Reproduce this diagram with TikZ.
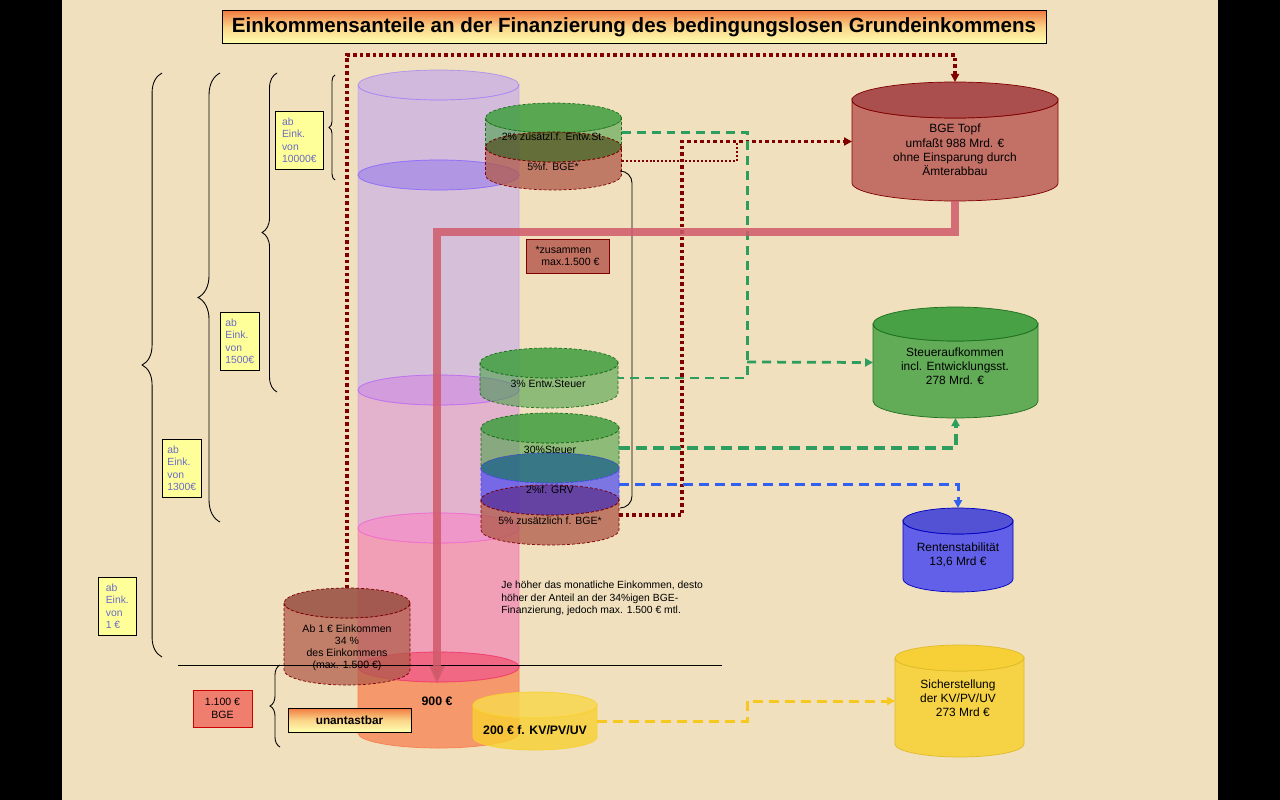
\documentclass[tikz,border=0pt]{standalone}
\usepackage{fontspec}
\setmainfont{Liberation Sans}
\usetikzlibrary{arrows.meta,decorations.pathreplacing}

% Tonne: name, cx, oben, unten, rx, ry, mantel, deckel, endwinkel (360 vorne, 0 hinten)
\newcommand\tonne[9]{%
  \path[#7] (#2-#5,#3) -- (#2-#5,#4)
    arc[start angle=180,end angle=#9,x radius={#5*0.02cm},y radius={#6*0.02cm}]
    -- (#2+#5,#3)
    arc[start angle=0,end angle=-180,x radius={#5*0.02cm},y radius={#6*0.02cm}] -- cycle;
  \path[#8] (#2,#3) ellipse[x radius={#5*0.02cm},y radius={#6*0.02cm}];
  \coordinate (#1-top) at (#2,#3-#6);
  \coordinate (#1-bot) at (#2,#4+#6);
  \coordinate (#1-w) at (#2-#5,{(#3+#4)/2});
  \coordinate (#1-e) at (#2+#5,{(#3+#4)/2});
}

\begin{document}
\begin{tikzpicture}[x=0.02cm,y=-0.02cm,
  gestrichelt/.style={dash pattern=on 0.06cm off 0.04cm,line width=0.4pt},
  gruenmantel/.style={fill=laubgruen,fill opacity=.55,draw=dunkelgruen,gestrichelt},
  gruendeckel/.style={fill=laubgruen,fill opacity=.85,draw=dunkelgruen,gestrichelt},
  rotmantel/.style={fill=ziegel,fill opacity=.75,draw=dunkelrot,gestrichelt},
  blaumantel/.style={fill=koenigsblau,fill opacity=.7,draw=koenigsblau,gestrichelt},
  spitze/.style={-{Triangle[length=0.16cm,width=0.16cm]}},
  punktlinie/.style={draw=dunkelrot,line width=0.07cm,dash pattern=on 0.07cm off 0.06cm},
  feinpunkt/.style={draw=dunkelrot,line width=0.04cm,dash pattern=on 0.04cm off 0.04cm},
  gruenstrich/.style={draw=strichgruen,line width=0.055cm,dash pattern=on 0.18cm off 0.12cm},
  gruendick/.style={draw=strichgruen,line width=0.08cm,dash pattern=on 0.22cm off 0.12cm},
  blaustrich/.style={draw=strichblau,line width=0.06cm,dash pattern=on 0.2cm off 0.12cm},
  gelbstrich/.style={draw=strichgelb,line width=0.06cm,dash pattern=on 0.2cm off 0.12cm},
  bgepfeil/.style={draw=pfeilrot,draw opacity=.85,line width=0.15cm,
    -{Triangle[length=0.36cm,width=0.28cm]}},
  klammer/.style={decorate,decoration={brace,amplitude=#1},line width=0.5pt},
  zettel/.style={draw=black,fill=zettelgelb,text=zetteltext,anchor=north west,
    font=\fontsize{5.9}{7.1}\selectfont,align=left,inner sep=1pt,minimum height=1.16cm},
  klein/.style={font=\fontsize{6}{7}\selectfont,text=black},
  topftext/.style={font=\fontsize{6.8}{8.1}\selectfont,align=center,text=black},
  fett/.style={font=\fontsize{7}{8.4}\selectfont\bfseries,text=black}]
\definecolor{pergament}{HTML}{F0E0BE}
\definecolor{titelorange}{HTML}{F07A40}
\definecolor{titelmitte}{HTML}{FBD488}
\definecolor{titelgelb}{HTML}{FFFFB0}
\definecolor{lavendel}{HTML}{B898F8}
\definecolor{violett}{HTML}{9070F8}
\definecolor{lila}{HTML}{D070E8}
\definecolor{lilaring}{HTML}{C070F0}
\definecolor{rosa}{HTML}{F060B0}
\definecolor{magentaring}{HTML}{F070D0}
\definecolor{orangerot}{HTML}{F04070}
\definecolor{hellorange}{HTML}{F88050}
\definecolor{laubgruen}{HTML}{3F9F3F}
\definecolor{dunkelgruen}{HTML}{1E6E1E}
\definecolor{ziegel}{HTML}{B05A4A}
\definecolor{topfrot}{HTML}{C06860}
\definecolor{topfdeckel}{HTML}{A84848}
\definecolor{dunkelrot}{HTML}{800000}
\definecolor{oliv}{HTML}{4B5B22}
\definecolor{koenigsblau}{HTML}{4A4AF0}
\definecolor{petrol}{HTML}{246C80}
\definecolor{pflaume}{HTML}{5632A0}
\definecolor{sonnengelb}{HTML}{F8D030}
\definecolor{zettelgelb}{HTML}{FFFF99}
\definecolor{zetteltext}{HTML}{6A6AC8}
\definecolor{lachs}{HTML}{F07E6E}
\definecolor{boxrot}{HTML}{C07060}
\definecolor{pfeilrot}{HTML}{D05A6A}
\definecolor{strichgruen}{HTML}{2E9E5E}
\definecolor{strichblau}{HTML}{3060F0}
\definecolor{strichgelb}{HTML}{F8C820}

\useasboundingbox (0,0) rectangle (1280,800);
\fill[black] (0,0) rectangle (1280,800);
\fill[pergament] (62,0) rectangle (1218,800);

\node[draw=black,top color=titelorange,bottom color=titelgelb,middle color=titelmitte,
  minimum width=16.48cm,minimum height=0.66cm,inner sep=0pt,
  font=\fontsize{11.7}{13}\selectfont\bfseries] (titel) at (634,27)
  {Einkommensanteile an der Finanzierung des bedingungslosen Grundeinkommens};

% grosse Saeule
\tonne{s1}{438.5}{85}{175}{80.5}{15}{fill=lavendel,fill opacity=.5,draw=lavendel,draw opacity=.6}{fill=lavendel,fill opacity=.55,draw=violett,draw opacity=.6}{0}
\tonne{s2}{438.5}{175}{390}{80.5}{15}{fill=lavendel,fill opacity=.45,draw=lavendel,draw opacity=.6}{fill=violett,fill opacity=.65,draw=violett}{0}
\tonne{s3}{438.5}{390}{528}{80.5}{15}{fill=lila,fill opacity=.4,draw=lila,draw opacity=.5}{fill=lilaring,fill opacity=.6,draw=lilaring}{0}
\tonne{s4}{438.5}{528}{667}{80.5}{15}{fill=rosa,fill opacity=.5,draw=rosa,draw opacity=.6}{fill=magentaring,fill opacity=.65,draw=magentaring}{0}
\tonne{s5}{438.5}{667}{733}{80.5}{15}{fill=hellorange,fill opacity=.75,draw=hellorange}{fill=orangerot,fill opacity=.75,draw=orangerot}{360}

% kleine Tonnen
\tonne{gz}{553.5}{118}{147}{68}{15}{gruenmantel}{gruendeckel}{0}
\tonne{rb}{553.5}{147}{175}{68}{15}{rotmantel}{fill=oliv,fill opacity=.85,draw=dunkelrot,gestrichelt}{360}
\tonne{ge}{549}{363}{393}{69}{15}{gruenmantel}{gruendeckel}{360}
\tonne{gs}{550}{428}{468}{69}{15}{gruenmantel}{gruendeckel}{0}
\tonne{bl}{550}{468}{500}{69}{15}{blaumantel}{fill=petrol,fill opacity=.9,draw=koenigsblau,gestrichelt}{0}
\tonne{rz}{550}{500}{530}{69}{15}{rotmantel}{fill=pflaume,fill opacity=.9,draw=dunkelrot,gestrichelt}{360}
\tonne{ab1}{347}{603}{670}{63}{15}{fill=ziegel,fill opacity=.72,draw=dunkelrot,gestrichelt}{fill=ziegel!85!black,fill opacity=.85,draw=dunkelrot,gestrichelt}{360}
\tonne{kv}{535}{705}{737}{62}{13}{fill=sonnengelb,fill opacity=.8,draw=sonnengelb}{fill=sonnengelb!85!white,fill opacity=.85,draw=sonnengelb}{360}

% Toepfe rechts
\tonne{topf}{955}{100}{183}{103}{18}{fill=topfrot,fill opacity=.92,draw=dunkelrot}{fill=topfdeckel,fill opacity=.95,draw=dunkelrot}{360}
\tonne{steuer}{955.5}{324}{401}{82.5}{17}{fill=laubgruen,fill opacity=.8,draw=dunkelgruen}{fill=laubgruen,fill opacity=.95,draw=dunkelgruen}{360}
\tonne{renten}{958}{521}{579}{55}{13}{fill=koenigsblau,fill opacity=.85,draw=blue!75!black}{fill=koenigsblau!90!black,fill opacity=.9,draw=blue!75!black}{360}
\tonne{sicher}{959.5}{658}{744}{64.5}{13}{fill=sonnengelb,fill opacity=.85,draw=sonnengelb!90!black}{fill=sonnengelb,fill opacity=.95,draw=sonnengelb!90!black}{360}

\draw[line width=0.5pt] (178,665) -- (722,665);
\draw[line width=0.5pt,rounded corners=0.24cm] (621,171) -- (632,171) -- (632,508) -- (621,508);

\foreach \x/\oben/\unten/\amp in {335/75/180/3.4pt,277/73/392/8.5pt,220/73/522/12.5pt,162/73/657/11.3pt,280/665/747/5.7pt}
  {\draw[klammer=\amp] (\x,\unten) -- (\x,\oben);}

\coordinate (oben) at (955,55);
\coordinate (treff) at (737,141);
\coordinate (gabel) at (747,362);
\coordinate (pfeilziel) at (437,684);

\draw[punktlinie,spitze] (ab1-top) |- (oben) -- (topf-top);
\draw[feinpunkt] (rb-e) -| (treff);
\draw[punktlinie,spitze] (rz-e) -- ++(63,0) |- (topf-w);
\draw[gruenstrich] (gz-e) -- ++(126,0) |- (ge-e);
\draw[gruenstrich,spitze] (gabel) -- (steuer-w);
\draw[gruendick,spitze] (gs-e) -| (steuer-bot);
\draw[blaustrich,spitze] (bl-e) -| (renten-top);
\draw[gelbstrich,spitze] (kv-e) -- ++(150,0) |- (sicher-w);
\draw[bgepfeil] (topf-bot) -- ++(0,31) -| (pfeilziel);

\node[klein] (t-gz) at (553,137) {2\% zusätzl.f. Entw.St.};
\node[klein] (t-rb) at (553,167) {5\%f. BGE*};
\node[klein] (t-ge) at (548,384) {3\% Entw.Steuer};
\node[klein] (t-gs) at (550,450) {30\%Steuer};
\node[klein] (t-bl) at (550,490) {2\%f. GRV};
\node[klein] (t-rz) at (550,521) {5\% zusätzlich f. BGE*};
\node[klein,align=center,font=\fontsize{6}{6.9}\selectfont] (t-ab1) at (347,648)
  {Ab 1 € Einkommen\\34 \%\\des Einkommens\\(max. 1.500 €)};
\node[fett] (t-900) at (437,701) {900 €};
\node[fett] (t-kv) at (535,730) {200 € f. KV/PV/UV};

\node[topftext] (t-topf) at (955,150)
  {BGE Topf\\umfaßt 988 Mrd. €\\ohne Einsparung durch\\Ämterabbau\hspace{1.1em}};
\node[topftext] (t-steuer) at (955,366)
  {Steueraufkommen\\incl. Entwicklungsst.\\278 Mrd. €};
\node[topftext] (t-renten) at (958,555) {Rentenstabilität\\13,6 Mrd €};
\node[topftext] (t-sicher) at (958,698)
  {Sicherstellung\\der KV/PV/UV\hspace{1em}\\\hspace{0.8em}273 Mrd €};

\node[anchor=north west,align=left,inner sep=0pt,font=\fontsize{5.9}{7.1}\selectfont]
  (hinweis) at (501,581)
  {Je höher das monatliche Einkommen, desto\\höher der Anteil an der 34\%igen BGE-\\Finanzierung, jedoch max. 1.500 € mtl.};

\foreach \name/\x/\y/\breite/\betrag in {z10000/275/111/0.96cm/10000€,z1500/220/312/0.78cm/1500€,z1300/162/439/0.78cm/1300€,z1/98/577/0.76cm/1 €}
  {\node[zettel,minimum width=\breite] (\name) at (\x,\y) {ab\\Eink.\\von\\\betrag};}

\node[draw=dunkelrot,fill=boxrot,minimum width=1.66cm,minimum height=0.68cm,inner sep=1pt,
  align=left,klein] (zusammen) at (567.5,256) {*zusammen\\\ \ max.1.500 €};
\node[draw=red!80!black,fill=lachs,minimum width=1.18cm,minimum height=0.74cm,inner sep=1pt,
  align=center,klein] (bge1100) at (222.5,708.5) {1.100 €\\BGE};
\node[draw=black,top color=titelorange,bottom color=titelgelb,middle color=titelmitte,
  minimum width=2.46cm,minimum height=0.48cm,inner sep=0pt,
  font=\fontsize{6.7}{8}\selectfont\bfseries] (unantastbar) at (349.5,720) {unantastbar};
\end{tikzpicture}
\end{document}
